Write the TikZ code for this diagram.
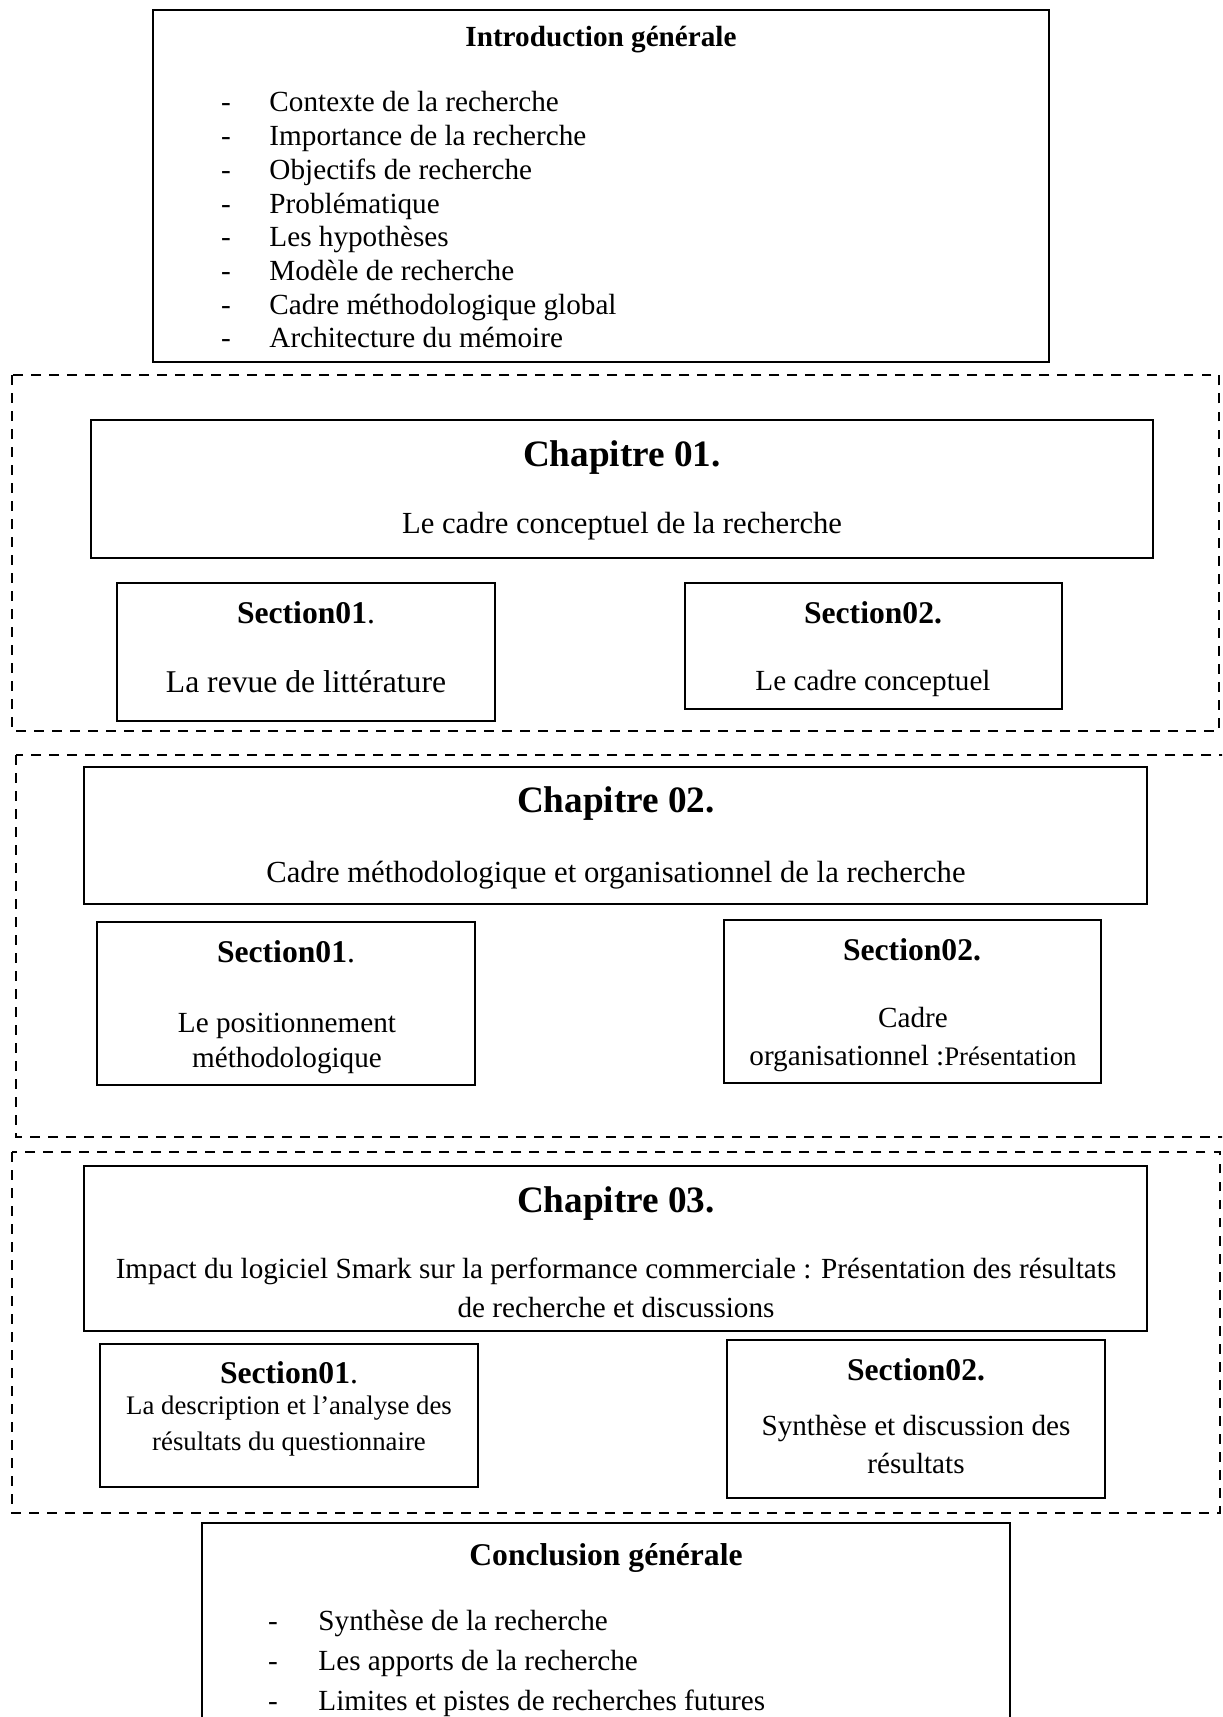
\documentclass[tikz,border=0pt]{standalone}
\usepackage{fontspec}
\setmainfont{Liberation Serif}

\begin{document}
\begin{tikzpicture}[x=0.411pt,y=-0.411pt,line cap=butt,line join=miter,
  box/.style={draw=black,line width=0.85pt},
  groupframe/.style={draw=black,line width=1pt,dash pattern=on 4.1pt off 3.3pt},
  txt/.style={anchor=base,inner sep=0pt,align=center,font=\fontsize{12}{14}\selectfont},
  chaptitle/.style={anchor=base,inner sep=0pt,font=\bfseries\fontsize{15.3}{18}\selectfont},
  sectitle/.style={anchor=base,inner sep=0pt,font=\fontsize{13}{15}\selectfont}]
  \useasboundingbox (0,0) rectangle (1222,1717);
  \clip (0,0) rectangle (1222,1717);

  % introduction
  \draw[box] (153,10) rectangle (1049,362);
  \node[txt,font=\bfseries\fontsize{12}{14}\selectfont] (introtitle) at (601,47) {Introduction générale};
  \foreach \txtitem [count=\i from 0] in {Contexte de la recherche,Importance de la recherche,
      Objectifs de recherche,Problématique,Les hypothèses,Modèle de recherche,
      Cadre méthodologique global,Architecture du mémoire}{
    \node[txt] (introdash\i) at (226,{112+33.7*\i}) {-};
    \node[txt,anchor=base west] (intro\i) at (269,{112+33.7*\i}) {\txtitem};
  }

  % chapitre 01
  \draw[groupframe] (12,375) rectangle (1219,731);
  \draw[box] (91,420) rectangle (1153,558);
  \node[chaptitle] (chaptitre1) at (622,466) {Chapitre 01.};
  \node[txt,font=\fontsize{12.6}{15}\selectfont] (chapsub1) at (622,533) {Le cadre conceptuel de la recherche};
  \draw[box] (117,583) rectangle (495,721);
  \node[sectitle] (sec11) at (306,623) {\textbf{Section01}.};
  \node[txt,font=\fontsize{13}{15}\selectfont] (sec11txt) at (306,692) {La revue de littérature};
  \draw[box] (685,583) rectangle (1062,709);
  \node[sectitle] (sec12) at (873,623) {\textbf{Section02.}};
  \node[txt] (sec12txt) at (873,690) {Le cadre conceptuel};

  % chapitre 02
  \draw[groupframe] (16,755) rectangle (1240,1137);
  \draw[box] (84,767) rectangle (1147,904);
  \node[chaptitle] (chaptitre2) at (616,812) {Chapitre 02.};
  \node[txt,font=\fontsize{12.6}{15}\selectfont] (chapsub2) at (616,882) {Cadre méthodologique et organisationnel de la recherche};
  \draw[box] (97,922) rectangle (475,1085);
  \node[sectitle] (sec21) at (286,962) {\textbf{Section01}.};
  \node[txt,font=\fontsize{12}{14}\selectfont] (sec21txt) at (287,1067) {Le positionnement\\méthodologique};
  \draw[box] (724,920) rectangle (1101,1083);
  \node[sectitle] (sec22) at (912,960) {\textbf{Section02.}};
  \node[txt,font=\fontsize{12}{15.6}\selectfont] (sec22txt) at (913,1065) {Cadre\\organisationnel :{\fontsize{11}{13}\selectfont Présentation}};

  % chapitre 03
  \draw[groupframe] (12,1152) rectangle (1220,1513);
  \draw[box] (84,1166) rectangle (1147,1331);
  \node[chaptitle] (chaptitre3) at (616,1212) {Chapitre 03.};
  \node[txt,font=\fontsize{12}{16}\selectfont] (chapsub3) at (616,1317) {Impact du logiciel Smark sur la performance commerciale : Présentation des résultats\\de recherche et discussions};
  \draw[box] (100,1344) rectangle (478,1487);
  \node[sectitle] (sec31) at (289,1383) {\textbf{Section01}.};
  \node[txt,font=\fontsize{11}{14.4}\selectfont] (sec31txt) at (289,1450) {La description et l’analyse des\\résultats du questionnaire};
  \draw[box] (727,1340) rectangle (1105,1498);
  \node[sectitle] (sec32) at (916,1380) {\textbf{Section02.}};
  \node[txt,font=\fontsize{12}{15.6}\selectfont] (sec32txt) at (916,1473) {Synthèse et discussion des\\résultats};

  % conclusion
  \draw[box] (202,1523) rectangle (1010,1740);
  \node[txt,font=\bfseries\fontsize{13}{15}\selectfont] (concltitle) at (606,1565) {Conclusion générale};
  \foreach \txtitem [count=\i from 0] in {Synthèse de la recherche,Les apports de la recherche,
      Limites et pistes de recherches futures}{
    \node[txt] (concldash\i) at (273,{1630+40*\i}) {-};
    \node[txt,anchor=base west] (concl\i) at (318,{1630+40*\i}) {\txtitem};
  }
\end{tikzpicture}
\end{document}
